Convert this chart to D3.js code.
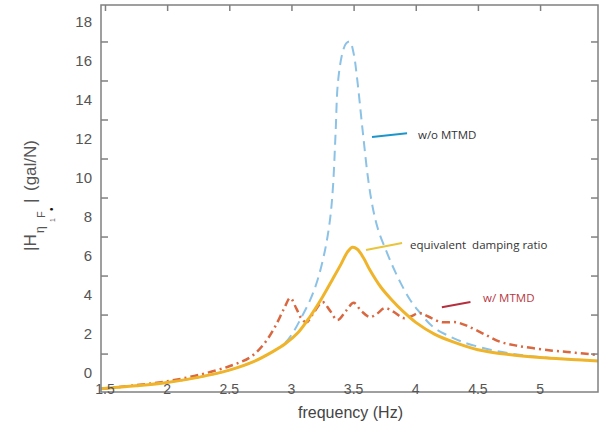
<!DOCTYPE html>
<html>
<head>
<meta charset="utf-8">
<script src="https://cdn.jsdelivr.net/npm/d3@7"></script>
<style>
  body { margin: 0; background: #fff; }
  svg { display: block; font-family: "Liberation Sans", Arial, sans-serif; }
</style>
</head>
<body>
<div id="chart"></div>
<script>
// frequency grids and magnitudes
var freqWo = [1.47, 1.75, 2.0, 2.25, 2.5, 2.7, 2.85, 2.95, 3.01, 3.08, 3.15, 3.21, 3.27, 3.31, 3.334, 3.355, 3.374, 3.41, 3.44, 3.47, 3.5, 3.53, 3.57, 3.62, 3.66, 3.7, 3.76, 3.82, 3.88, 3.95, 4.02, 4.14, 4.25, 4.38, 4.6, 4.8, 5.0, 5.25, 5.47];
var magWo = [-0.8, -0.65, -0.48, -0.22, 0.15, 0.6, 1.1, 1.55, 2.05, 2.85, 3.74, 4.77, 6.3, 7.85, 9.54, 12.3, 14.9, 16.4, 16.9, 17.0, 16.4, 15.0, 12.6, 9.8, 8.3, 7.3, 6.3, 5.4, 4.6, 3.8, 3.2, 2.36, 1.95, 1.59, 1.2, 0.97, 0.82, 0.7, 0.62];

var freqEq = [1.47, 1.75, 2.0, 2.25, 2.5, 2.7, 2.85, 2.95, 3.05, 3.15, 3.25, 3.33, 3.4, 3.45, 3.49, 3.53, 3.58, 3.63, 3.72, 3.8, 3.9, 4.0, 4.15, 4.3, 4.5, 4.75, 5.0, 5.25, 5.47];
var magEq = [-0.8, -0.65, -0.48, -0.22, 0.15, 0.6, 1.1, 1.5, 2.05, 2.9, 3.9, 4.8, 5.6, 6.2, 6.45, 6.35, 5.9, 5.3, 4.4, 3.8, 3.15, 2.6, 2.0, 1.6, 1.2, 0.95, 0.8, 0.7, 0.62];

var freqW = [1.47, 1.75, 2.0, 2.25, 2.5, 2.67, 2.78, 2.87, 2.94, 2.99, 3.04, 3.08, 3.12, 3.18, 3.25, 3.31, 3.37, 3.44, 3.5, 3.56, 3.63, 3.69, 3.75, 3.82, 3.9, 3.96, 4.03, 4.1, 4.2, 4.33, 4.42, 4.55, 4.68, 4.8, 4.94, 5.1, 5.22, 5.35, 5.47];
var magW = [-0.8, -0.62, -0.42, -0.1, 0.35, 0.82, 1.5, 2.4, 3.3, 3.85, 3.3, 2.8, 2.6, 3.1, 3.64, 3.2, 2.72, 3.2, 3.6, 3.2, 2.87, 3.05, 3.33, 3.15, 2.82, 2.9, 3.08, 2.9, 2.62, 2.6, 2.4, 2.0, 1.6, 1.42, 1.28, 1.15, 1.08, 1.0, 0.92];

var xTicks = [1.5, 2, 2.5, 3, 3.5, 4, 4.5, 5];
var xTickLabels = ["1.5", "2", "2.5", "3", "3.5", "4", "4.5", "5"];
var yLabels = [0, 2, 4, 6, 8, 10, 12, 14, 16, 18];
var yTicks = [1, 3, 5, 7, 9, 11, 13, 15, 17];

// annotation anchors (frequency, magnitude)
var noteText = ["w/o MTMD", "equivalent  damping ratio", "w/ MTMD"];
var noteTextPos = [[4.018, 12.0], [3.954, 6.36], [4.541, 3.64]];
var noteLine = [[[3.648, 12.1], [3.93, 12.3]], [[3.60, 6.31], [3.89, 6.67]], [[4.21, 3.38], [4.44, 3.64]]];

var width = 606, height = 430;
var boxL = 101, boxR = 598, boxT = 5, boxB = 392;

var svg = d3.select("#chart").append("svg")
  .attr("width", width)
  .attr("height", height);

var x = d3.scaleLinear().domain([1.468, 5.466]).range([boxL, boxR]);
var y = d3.scaleLinear().domain([-0.97, 18.87]).range([boxB, boxT]);

svg.append("clipPath").attr("id", "clip")
  .append("rect")
  .attr("x", boxL).attr("y", boxT)
  .attr("width", boxR - boxL).attr("height", boxB - boxT);

var line = d3.line()
  .x(function(d) { return x(d[0]); })
  .y(function(d) { return y(d[1]); })
  .curve(d3.curveCatmullRom.alpha(0.5));

var plot = svg.append("g").attr("clip-path", "url(#clip)");

plot.append("path")
  .datum(d3.zip(freqWo, magWo))
  .attr("d", line)
  .attr("fill", "none")
  .attr("stroke", "#8cc2e6")
  .attr("stroke-width", 2)
  .attr("stroke-dasharray", "10,6");

plot.append("path")
  .datum(d3.zip(freqW, magW))
  .attr("d", line)
  .attr("fill", "none")
  .attr("stroke", "#d9673f")
  .attr("stroke-width", 2.5)
  .attr("stroke-dasharray", "8,4,2,4");

plot.append("path")
  .datum(d3.zip(freqEq, magEq))
  .attr("d", line)
  .attr("fill", "none")
  .attr("stroke", "#efb42a")
  .attr("stroke-width", 3);

// frame
var axisColor = "#808080";
svg.append("rect")
  .attr("x", boxL).attr("y", boxT)
  .attr("width", boxR - boxL).attr("height", boxB - boxT)
  .attr("fill", "none")
  .attr("stroke", axisColor)
  .attr("stroke-width", 1.5);

function styleTicks(g) {
  g.select(".domain").remove();
  g.selectAll("line").attr("stroke", axisColor).attr("stroke-width", 1.5);
}

// inward ticks
svg.append("g").attr("transform", "translate(" + boxL + ",0)")
  .call(d3.axisLeft(y).tickValues(yTicks).tickSize(-7).tickFormat(""))
  .call(styleTicks);

svg.append("g").attr("transform", "translate(" + boxR + ",0)")
  .call(d3.axisRight(y).tickValues(yTicks).tickSize(-7).tickFormat(""))
  .call(styleTicks);

svg.append("g").attr("transform", "translate(0," + boxT + ")")
  .call(d3.axisTop(x).tickValues(xTicks).tickSize(-6).tickFormat(""))
  .call(styleTicks);

// tick labels
svg.append("g").selectAll("text")
  .data(yLabels)
  .enter().append("text")
  .attr("x", boxL - 9)
  .attr("y", function(d) { return y(d); })
  .attr("dy", "0.36em")
  .attr("text-anchor", "end")
  .attr("font-size", 15)
  .attr("fill", "#555")
  .text(function(d) { return d; });

svg.append("g").selectAll("text")
  .data(xTicks)
  .enter().append("text")
  .attr("x", function(d) { return x(d); })
  .attr("y", boxB + 2)
  .attr("text-anchor", "middle")
  .attr("font-size", 14)
  .attr("fill", "#555")
  .text(function(d, i) { return xTickLabels[i]; });

svg.append("text")
  .attr("x", (boxL + boxR) / 2 + 1)
  .attr("y", 418)
  .attr("text-anchor", "middle")
  .attr("font-size", 16)
  .attr("fill", "#444")
  .text("frequency (Hz)");

// y label |H_{η1 F}| (gal/N)
var yl = svg.append("g").attr("transform", "translate(36,0) rotate(-90)")
  .attr("fill", "#555");
yl.append("text").attr("x", -251).attr("y", 0).attr("font-size", 17).text("|H");
yl.append("text").attr("x", -233).attr("y", 8).attr("font-size", 12).text("η");
yl.append("text").attr("x", -222).attr("y", 19).attr("font-size", 7).text("1");
yl.append("text").attr("x", -218).attr("y", 9).attr("font-size", 11).text("F");
yl.append("text").attr("x", -211).attr("y", 19).attr("font-size", 10).attr("fill", "#111").text("•");
yl.append("text").attr("x", -203).attr("y", 0).attr("font-size", 17).text("|");
yl.append("text").attr("x", -191).attr("y", 0).attr("font-size", 17).text("(gal/N)");

// annotations
var noteColors = ["#1a96cc", "#e8c53a", "#b52f3f"];
var noteTextColors = ["#333", "#333", "#b8373f"];

svg.append("g").selectAll("path")
  .data(noteLine)
  .enter().append("path")
  .attr("d", d3.line().x(function(d) { return x(d[0]); }).y(function(d) { return y(d[1]); }))
  .attr("stroke", function(d, i) { return noteColors[i]; })
  .attr("stroke-width", 2);

svg.append("g").selectAll("text")
  .data(noteText)
  .enter().append("text")
  .attr("x", function(d, i) { return x(noteTextPos[i][0]); })
  .attr("y", function(d, i) { return y(noteTextPos[i][1]); })
  .attr("font-family", "'Open Sans', sans-serif")
  .attr("font-size", 11.5)
  .attr("fill", function(d, i) { return noteTextColors[i]; })
  .style("white-space", "pre")
  .text(function(d) { return d; });
</script>
</body>
</html>
